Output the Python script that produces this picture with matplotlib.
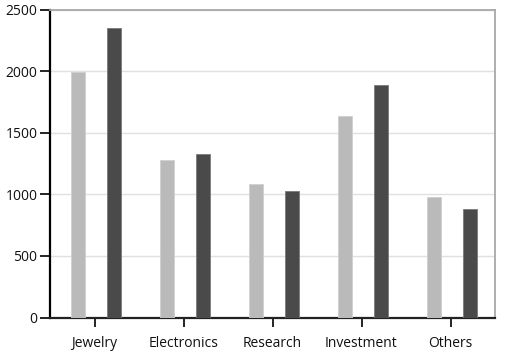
import matplotlib
matplotlib.use("Agg")
import matplotlib.pyplot as plt
import numpy as np

categories = ["Jewelry", "Electronics", "Research", "Investment", "Others"]
series_a = [1990, 1275, 1080, 1635, 975]
series_b = [2350, 1325, 1025, 1890, 880]
yticks = [0, 500, 1000, 1500, 2000, 2500]

plt.rcParams['font.family'] = ['Open Sans', 'DejaVu Sans']

fig = plt.figure(figsize=(5.05, 3.53), dpi=100)
W, H = 505, 353
ax = fig.add_axes([50 / W, (H - 317.5) / H, 445 / W, (317.5 - 9.5) / H])

x = np.arange(len(categories))
bw = 0.157
ax.bar(x - 0.183, series_a, width=bw, color="#bababa", edgecolor="#cfcfcf", linewidth=0.6, zorder=3)
ax.bar(x + 0.217, series_b, width=bw, color="#4a4a4a", edgecolor="#7a7a7a", linewidth=0.6, zorder=3)

ax.set_xlim(-0.5, len(categories) - 0.5)
ax.set_ylim(0, 2500)
ax.set_yticks(yticks)
ax.set_yticklabels([str(v) for v in yticks])
ax.set_xticks(x)
ax.set_xticklabels(categories)

ax.yaxis.grid(True, color="#e0e0e0", linewidth=1, zorder=0)
ax.set_axisbelow(True)

for s in ["top", "right"]:
    ax.spines[s].set_color("#a8a8a8")
    ax.spines[s].set_linewidth(1.3)
ax.spines["left"].set_color("#000000")
ax.spines["left"].set_linewidth(1.6)
ax.spines["bottom"].set_color("#222222")
ax.spines["bottom"].set_linewidth(1.6)

ax.tick_params(axis="y", length=7, width=1.2, color="black", labelsize=10, pad=2, labelcolor="#111111")
ax.tick_params(axis="x", length=6.5, width=1.2, color="black", labelsize=10, pad=7, labelcolor="#111111")

fig.savefig("out.png", dpi=100)
